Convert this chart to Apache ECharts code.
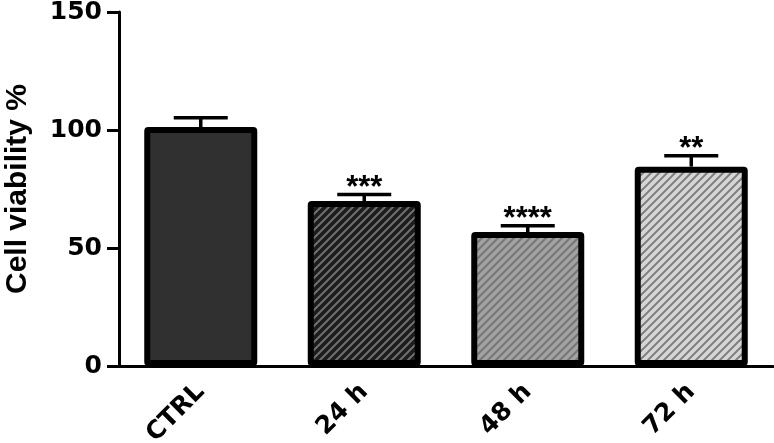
<!DOCTYPE html>
<html>
<head>
<meta charset="utf-8">
<script src="https://cdn.jsdelivr.net/npm/echarts@6/dist/echarts.min.js"></script>
<style>
  html, body { margin: 0; padding: 0; background: #fff; }
  #chart { width: 774px; height: 443px; }
</style>
</head>
<body>
<div id="chart"></div>
<script>
// data
const groups = ['CTRL', '24 h', '48 h', '72 h']
const viability = [100, 68.6, 55.5, 83.2]
const sem = [5.2, 4.1, 3.9, 5.9]
const stars = ['', '***', '****', '**']
const yTicks = [0, 50, 100, 150]

// fill per bar: background + hatch line colour (null = solid)
const fills = [
  { bg: '#303030', line: null },
  { bg: '#1c1c1c', line: '#707070' },
  { bg: '#a2a2a2', line: '#767676' },
  { bg: '#d6d6d6', line: '#808080' }
]

const makeHatch = (bg, line) => {
  const size = 8
  const c = document.createElement('canvas')
  c.width = size
  c.height = size
  const ctx = c.getContext('2d')
  ctx.fillStyle = bg
  ctx.fillRect(0, 0, size, size)
  ctx.strokeStyle = line
  ctx.lineWidth = 2
  ctx.beginPath()
  ctx.moveTo(-size / 2, size / 2); ctx.lineTo(size / 2, -size / 2)
  ctx.moveTo(0, size); ctx.lineTo(size, 0)
  ctx.moveTo(size / 2, size * 1.5); ctx.lineTo(size * 1.5, size / 2)
  ctx.stroke()
  return c
}

const barColor = f => f.line ? { image: makeHatch(f.bg, f.line), repeat: 'repeat' } : f.bg

const chart = echarts.init(document.getElementById('chart'))

const option = {
  animation: false,
  grid: { left: 119, right: 1, top: 12, bottom: 77, containLabel: false, outerBoundsMode: 'none' },
  xAxis: {
    type: 'category',
    data: groups,
    axisLine: { lineStyle: { color: '#000', width: 3 } },
    axisTick: { alignWithLabel: true, length: 9, lineStyle: { color: '#000', width: 3 } },
    axisLabel: {
      rotate: 45,
      margin: 22,
      color: '#000',
      fontFamily: 'DejaVu Sans',
      fontWeight: 'bold',
      fontSize: 25
    }
  },
  yAxis: {
    type: 'value',
    min: yTicks[0],
    max: yTicks[yTicks.length - 1],
    interval: 50,
    name: 'Cell viability %',
    nameLocation: 'middle',
    nameGap: 86,
    nameTextStyle: {
      color: '#000',
      fontFamily: 'Liberation Sans',
      fontWeight: 'bold',
      fontSize: 30
    },
    axisLine: { show: true, lineStyle: { color: '#000', width: 3 } },
    axisTick: { show: true, length: 12, lineStyle: { color: '#000', width: 3 } },
    axisLabel: {
      margin: 17,
      color: '#000',
      fontFamily: 'DejaVu Sans',
      fontWeight: 'bold',
      fontSize: 25
    },
    splitLine: { show: false }
  },
  series: [
    {
      // bars drawn as custom rects so the outline straddles the edge
      type: 'custom',
      z: 2,
      data: viability.map((v, i) => [i, v]),
      renderItem: (params, api) => {
        const i = api.value(0)
        const top = api.coord([i, api.value(1)])
        const bottom = api.coord([i, 0])
        const w = 107
        return {
          type: 'rect',
          shape: { x: top[0] - w / 2, y: top[1], width: w, height: bottom[1] - top[1] - 3, r: 1 },
          style: {
            fill: barColor(fills[i]),
            stroke: '#000',
            lineWidth: 6,
            lineJoin: 'round'
          }
        }
      }
    },
    {
      type: 'custom',
      z: 3,
      data: viability.map((v, i) => [i, v, v + sem[i]]),
      renderItem: (params, api) => {
        const i = api.value(0)
        const base = api.coord([i, api.value(1)])
        const top = api.coord([i, api.value(2)])
        const half = 27
        return {
          type: 'group',
          children: [
            {
              type: 'line',
              shape: { x1: base[0], y1: base[1] - 3, x2: top[0], y2: top[1] },
              style: { stroke: '#000', lineWidth: 3.5 }
            },
            {
              type: 'line',
              shape: { x1: top[0] - half, y1: top[1], x2: top[0] + half, y2: top[1] },
              style: { stroke: '#000', lineWidth: 3.5 }
            },
            {
              type: 'text',
              style: {
                text: stars[i],
                x: top[0],
                y: top[1] - 6,
                align: 'center',
                verticalAlign: 'middle',
                fill: '#000',
                fontFamily: 'Liberation Sans',
                fontWeight: 'bold',
                fontSize: 31
              }
            }
          ]
        }
      }
    }
  ]
}

chart.setOption(option)
</script>
</body>
</html>
